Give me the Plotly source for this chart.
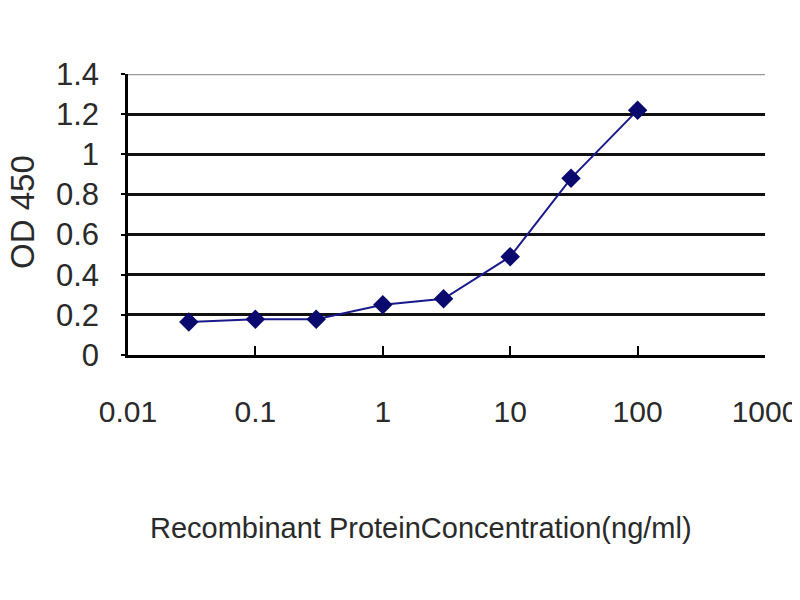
"""
OD 450 vs recombinant protein concentration (log scale)
"""
import plotly.graph_objects as go

concentration = [0.03, 0.1, 0.3, 1, 3, 10, 30, 100]
od450 = [0.165, 0.178, 0.178, 0.25, 0.28, 0.49, 0.88, 1.22]

x_ticks = [0.01, 0.1, 1, 10, 100, 1000]
x_tick_text = ['0.01', '0.1', '1', '10', '100', '1000']
y_ticks = [0, 0.2, 0.4, 0.6, 0.8, 1, 1.2, 1.4]
y_tick_text = ['0', '0.2', '0.4', '0.6', '0.8', '1', '1.2', '1.4']

FONT = 'Liberation Sans'
TEXT_COLOR = '#2a2a2a'

fig = go.Figure()
fig.add_trace(go.Scatter(
    x=concentration, y=od450,
    mode='lines+markers',
    line=dict(color='#1a1a8c', width=2),
    marker=dict(symbol='diamond', size=15, color='#0a0a6e'),
    showlegend=False,
))

fig.update_xaxes(
    type='log', range=[-2, 3],
    tickvals=x_ticks, ticktext=x_tick_text,
    showgrid=False, zeroline=False,
    showline=True, linecolor='black', linewidth=2.5,
    ticks='inside', ticklen=9, tickwidth=2, tickcolor='black',
    ticklabelstandoff=28,
    tickfont=dict(family=FONT, size=30, color=TEXT_COLOR),
    automargin=False,
)
fig.update_yaxes(
    range=[0, y_ticks[-1]],
    tickvals=y_ticks, ticktext=y_tick_text,
    showgrid=True, gridcolor='#111111', gridwidth=2.5,
    zeroline=False,
    showline=True, linecolor='black', linewidth=2.5,
    ticks='outside', ticklen=4, tickwidth=2, tickcolor='black',
    ticklabelstandoff=16,
    tickfont=dict(family=FONT, size=31, color=TEXT_COLOR),
    automargin=False,
)

# top gridline is lighter in the original
fig.add_shape(type='line', xref='paper', yref='y', x0=0, x1=1,
              y0=y_ticks[-1], y1=y_ticks[-1], line=dict(color='#9a9a9a', width=2.5))

# axis titles
fig.add_annotation(
    text='OD 450', textangle=-90,
    xref='paper', yref='paper', x=-0.166, y=0.51,
    xanchor='center', yanchor='middle',
    showarrow=False,
    font=dict(family=FONT, size=33, color=TEXT_COLOR),
)
fig.add_annotation(
    text='Recombinant ProteinConcentration(ng/ml)',
    xref='paper', yref='paper', x=0.46, y=-0.68,
    showarrow=False,
    font=dict(family=FONT, size=29, color=TEXT_COLOR),
)

fig.update_layout(
    width=800, height=600,
    margin=dict(l=120, r=43, t=66, b=253),
    plot_bgcolor='white', paper_bgcolor='white',
)

fig.write_html("out.html")
